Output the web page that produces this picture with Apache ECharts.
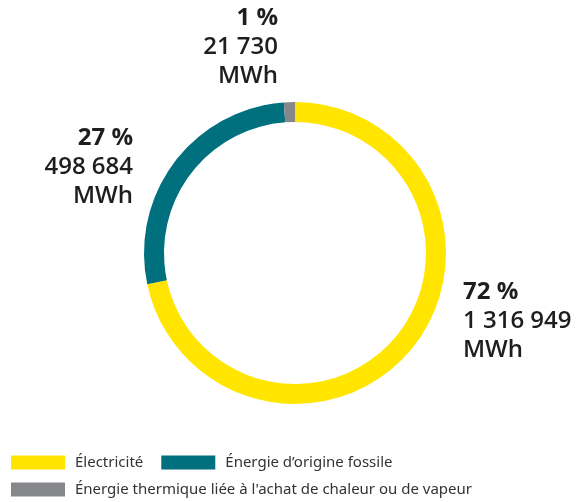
<!DOCTYPE html>
<html>
<head>
<meta charset="utf-8">
<style>
  html, body { margin: 0; padding: 0; background: #ffffff; }
  #chart { width: 583px; height: 502px; }
</style>
<script src="https://cdn.jsdelivr.net/npm/echarts@6/dist/echarts.min.js"></script>
</head>
<body>
<div id="chart"></div>
<script>
// Energy consumption by source (MWh)
const categories = [
  'Électricité',
  'Énergie d’origine fossile',
  'Énergie thermique liée à l\'achat de chaleur ou de vapeur'
];
const values = [1316949, 498684, 21730];
const colors = ['#FFE500', '#00707F', '#86878A'];

// Label anchor for each slice: [x, y, align]
const labelAnchors = [
  [463, 321, 'left'],
  [133, 167, 'right'],
  [278, 47, 'right']
];

const total = values.reduce((a, b) => a + b, 0);

// French digit grouping with spaces
function groupThousands(n) {
  return String(n).replace(/\B(?=(\d{3})+(?!\d))/g, ' ');
}

const FONT = '"Noto Sans", "Open Sans", sans-serif';
const LABEL_FONT = '"Open Sans", "Noto Sans", sans-serif';

const legendBase = {
  icon: 'rect',
  itemWidth: 54,
  itemHeight: 14,
  padding: 0,
  selectedMode: false,
  textStyle: { fontFamily: FONT, fontSize: 15, color: '#333333', padding: [0, 0, 0, 5] }
};

const chart = echarts.init(document.getElementById('chart'), null, { renderer: 'canvas' });

chart.setOption({
  animation: false,
  color: colors,
  legend: [
    Object.assign({}, legendBase, {
      data: [categories[0], categories[1]],
      left: 11,
      top: 455,
      itemGap: 18
    }),
    Object.assign({}, legendBase, {
      data: [categories[2]],
      left: 11,
      top: 482
    })
  ],
  series: [
    {
      type: 'pie',
      center: [295, 253],
      radius: [131, 151],
      startAngle: 90,
      clockwise: true,
      avoidLabelOverlap: false,
      emphasis: { disabled: true },
      itemStyle: { borderWidth: 0 },
      data: categories.map((name, i) => ({ name: name, value: values[i] })),
      label: {
        show: true,
        position: 'outside',
        fontFamily: LABEL_FONT,
        formatter: function (p) {
          const pct = Math.round(p.value / total * 100);
          return '{b|' + pct + ' %}\n{v|' + groupThousands(p.value) + '}\n{v|MWh}';
        },
        rich: {
          b: { fontFamily: LABEL_FONT, fontSize: 24, fontWeight: 700, color: '#1e1e1e', lineHeight: 29 },
          v: { fontFamily: LABEL_FONT, fontSize: 24, fontWeight: 600, color: '#1e1e1e', lineHeight: 29 }
        }
      },
      labelLine: { show: false },
      labelLayout: function (params) {
        const a = labelAnchors[params.dataIndex];
        return { x: a[0], y: a[1], align: a[2], verticalAlign: 'middle', hideOverlap: false };
      }
    }
  ]
});
</script>
</body>
</html>
